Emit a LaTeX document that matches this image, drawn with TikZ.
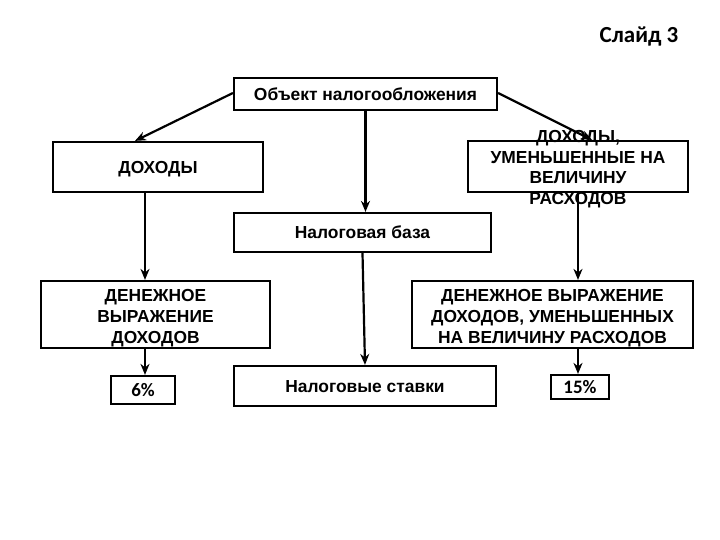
\documentclass[tikz,border=0pt]{standalone}
\usepackage{fontspec}
\setmainfont{Liberation Sans}
\newfontfamily\calib{Carlito}
\usetikzlibrary{arrows.meta}
\begin{document}
\begin{tikzpicture}[x=1pt,y=-1pt,
  boxfont/.style={font=\bfseries\fontsize{17.4}{21}\selectfont, align=center},
  box/.style={draw, line width=2.2pt, minimum height=#1, inner sep=0pt, boxfont},
  box/.default=30pt,
  one/.style={text height=12.5pt, text depth=0pt},
  inside/.style={label={[boxfont, inner sep=0pt, yshift=#1]center:}},
  arr/.style={draw, line width=2.2pt, -{Stealth[length=11pt,width=9pt]}}]
\useasboundingbox (0,0) rectangle (720,540);
\node[font=\calib\bfseries\fontsize{23}{26}\selectfont] (title) at (639,37) {Слайд 3};
\node[box=32pt, one, minimum width=263pt] (obj) at (365.5,94) {Объект налогообложения};
\node[box=50pt, one, minimum width=210pt] (doh) at (158,167) {ДОХОДЫ};
\node[box=51pt, minimum width=220pt] (dohr) at (578,166.5) {};
\node[boxfont, font=\bfseries\fontsize{17.4}{20.5}\selectfont, inner sep=0pt] (dohrt) at (578,169) {ДОХОДЫ,\\УМЕНЬШЕННЫЕ НА\\ВЕЛИЧИНУ\\РАСХОДОВ};
\node[box=39pt, one, minimum width=257pt] (base) at (362.5,232.5) {Налоговая база};
\node[box=67pt, minimum width=229pt] (den) at (155.5,314.5) {};
\node[boxfont, inner sep=0pt] (dent) at (155.5,318) {ДЕНЕЖНОЕ\\ВЫРАЖЕНИЕ\\ДОХОДОВ};
\node[box=67pt, minimum width=281pt] (denr) at (552.5,314.5) {};
\node[boxfont, inner sep=0pt] (denrt) at (552.5,318) {ДЕНЕЖНОЕ ВЫРАЖЕНИЕ\\ДОХОДОВ, УМЕНЬШЕННЫХ\\НА ВЕЛИЧИНУ РАСХОДОВ};
\node[box=40pt, one, minimum width=262pt] (rate) at (365,386) {Налоговые ставки};
\node[box=28pt, minimum width=64pt, font=\calib\bfseries\fontsize{19}{22}\selectfont] (p6) at (143,390) {6\%};
\node[box=24pt, minimum width=58pt, font=\calib\bfseries\fontsize{19}{22}\selectfont] (p15) at (580,387) {15\%};
\draw[arr] ([yshift=1pt]obj.west) -- (doh.north -| 135,0);
\draw[arr] (obj.south) -- (base.north -| obj.south);
\draw[arr] ([yshift=1pt]obj.east) -- (dohr.north -| 592,0);
\draw[arr] (doh.south -| 145,0) -- (den.north -| 145,0);
\draw[arr] (base.south) -- (rate.north);
\draw[arr] (dohr.south) -- (denr.north -| dohr.south);
\draw[arr] (den.south -| 145,0) -- (p6.north -| 145,0);
\draw[arr] (denr.south -| 578,0) -- (p15.north -| 578,0);
\end{tikzpicture}
\end{document}
